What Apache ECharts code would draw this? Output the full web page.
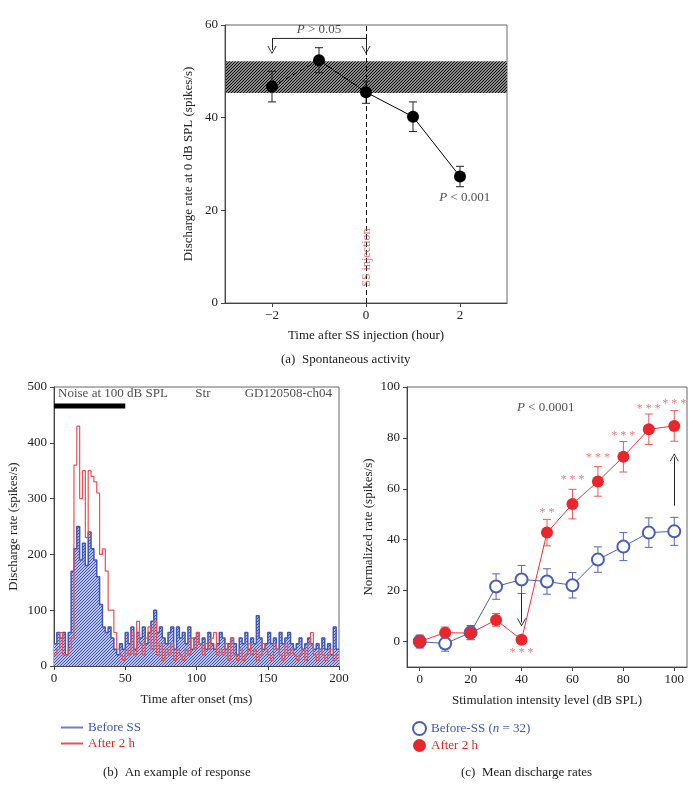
<!DOCTYPE html>
<html>
<head>
<meta charset="utf-8">
<script src="https://cdn.jsdelivr.net/npm/echarts@6/dist/echarts.min.js"></script>
<style>
  html, body { margin: 0; padding: 0; background: #fff; }
  #main { width: 693px; height: 789px; }
</style>
</head>
<body>
<div id="main"></div>
<script>
// (a) 自发放电
const hoursA = [-2, -1, 0, 1, 2];
const rateA = [46.7, 52.4, 45.5, 40.2, 27.3];
const errA = [3.3, 2.7, 2.4, 3.2, 2.2];
const bandA = [45.3, 52.2];
const ticksA = [-2, 0, 2];

// (b) PSTH, 2 ms 一个 bin
const binMs = 2;
const psthBefore = [
  40, 60, 50, 60, 20, 60, 170, 210, 250, 190, 220, 180, 240, 210, 190, 160, 110, 70, 60, 70,
  50, 30, 20, 40, 30, 60, 40, 70, 30, 60, 50, 70, 40, 60, 80, 100, 60, 70, 50, 40,
  60, 70, 30, 70, 50, 60, 40, 70, 30, 50, 60, 40, 50, 30, 60, 40, 30, 40, 60, 50,
  30, 40, 50, 40, 20, 50, 40, 60, 30, 50, 40, 90, 50, 30, 40, 60, 40, 50, 30, 60,
  40, 50, 60, 40, 30, 40, 50, 30, 40, 50, 40, 30, 40, 30, 50, 30, 40, 20, 70, 30
];
const psthAfter = [
  20, 30, 60, 20, 20, 30, 50, 360, 430, 300, 350, 230, 350, 340, 330, 310, 200, 210, 170, 100,
  100, 60, 30, 20, 10, 30, 20, 60, 20, 80, 40, 20, 50, 70, 30, 80, 20, 40, 10, 30,
  20, 40, 10, 30, 20, 10, 30, 20, 50, 30, 60, 40, 20, 40, 30, 50, 60, 20, 30, 20,
  40, 10, 50, 20, 10, 30, 10, 20, 40, 20, 30, 10, 20, 40, 30, 20, 10, 40, 30, 20,
  10, 40, 20, 30, 20, 10, 20, 30, 10, 40, 60, 20, 10, 30, 20, 10, 20, 30, 10, 20
];
const noiseBar = [0, 50];
const noiseLevel = 466;

// (c) 平均放电率
const levelsC = [0, 10, 20, 30, 40, 50, 60, 70, 80, 90, 100];
const beforeC = [0, -0.8, 3.5, 21.6, 24.4, 23.6, 22.1, 32.2, 37.3, 42.8, 43.3];
const errBeforeC = [2.5, 3, 2.8, 5, 5.5, 5, 5, 5, 5.5, 5.8, 5.5];
const afterC = [0, 3.5, 3.3, 8.5, 0.7, 42.8, 54, 62.9, 72.6, 83.4, 84.7];
const errAfterC = [2.5, 2.2, 2.5, 2.5, 1.5, 5.2, 5.8, 5.8, 6, 6, 6];
const starsC = [[40, -4.5, '* * *'], [50, 50.5, '* *'], [60, 63.5, '* * *'], [70, 72, '* * *'],
  [80, 81, '* * *'], [90, 91.4, '* * *'], [100, 93.4, '* * *']];
const ticksC = [0, 20, 40, 60, 80, 100];

const FONT = 'Liberation Serif';
const BLUE = '#3f56b2';
const RED = '#e8262c';

function hatch(line, bg, size) {
  const c = document.createElement('canvas');
  c.width = c.height = size;
  const ctx = c.getContext('2d');
  ctx.fillStyle = bg;
  ctx.fillRect(0, 0, size, size);
  ctx.strokeStyle = line;
  ctx.lineWidth = 1;
  ctx.beginPath();
  ctx.moveTo(-1, size + 1); ctx.lineTo(size + 1, -1);
  ctx.moveTo(-1, 1); ctx.lineTo(1, -1);
  ctx.moveTo(size - 1, size + 1); ctx.lineTo(size + 1, size - 1);
  ctx.stroke();
  return c;
}

function errRender(color, cap) {
  return function (params, api) {
    const x = api.value(0);
    const top = api.coord([x, api.value(2)]);
    const bot = api.coord([x, api.value(1)]);
    const style = { stroke: color, lineWidth: 1 };
    return {
      type: 'group',
      children: [
        { type: 'line', shape: { x1: top[0], y1: top[1], x2: bot[0], y2: bot[1] }, style },
        { type: 'line', shape: { x1: top[0] - cap, y1: top[1], x2: top[0] + cap, y2: top[1] }, style },
        { type: 'line', shape: { x1: bot[0] - cap, y1: bot[1], x2: bot[0] + cap, y2: bot[1] }, style }
      ]
    };
  };
}

function steps(vals) {
  const d = vals.map((v, i) => [i * binMs, v]);
  d.push([vals.length * binMs, vals[vals.length - 1]]);
  return d;
}

// 纯文字标注用的透明散点
function textSeries(xi, data, label, z) {
  return {
    type: 'scatter', xAxisIndex: xi, yAxisIndex: xi, z: z || 6,
    symbolSize: 1, itemStyle: { color: 'transparent' }, silent: true,
    label: Object.assign({ show: true, position: 'inside', fontFamily: FONT, fontSize: 13, color: '#222',
      formatter: p => p.data[2] }, label),
    data: data
  };
}

const minus = v => (v < 0 ? '\u2212' + Math.abs(v) : String(v));
const axisText = { color: '#222', fontFamily: FONT, fontSize: 13 };
const axisNameText = { color: '#222', fontFamily: FONT, fontSize: 13 };
const lineCol = { onZero: false, lineStyle: { color: '#444', width: 1 } };
const V = 'path://M0,10 L5,0 L10,10 L9,10 L5,2 L1,10 Z';
const italicRich = { i: { fontStyle: 'italic', fontFamily: FONT, fontSize: 13, color: '#222' } };

const myChart = echarts.init(document.getElementById('main'));

let option = {
  backgroundColor: '#fff',
  animation: false,
  textStyle: { fontFamily: FONT },
  grid: [
    { left: 225, top: 25, width: 282, height: 278, show: true, borderColor: '#666', borderWidth: 1 },
    { left: 54, top: 387, width: 285, height: 279, show: true, borderColor: '#666', borderWidth: 1 },
    { left: 407, top: 387, width: 280, height: 280, show: true, borderColor: '#666', borderWidth: 1 }
  ],
  xAxis: [{
    gridIndex: 0, type: 'value', min: -3, max: 3,
    name: 'Time after SS injection (hour)', nameLocation: 'middle', nameGap: 26, nameTextStyle: axisNameText,
    axisLine: lineCol, axisTick: { length: 4, customValues: ticksA, lineStyle: { color: '#444' } },
    axisLabel: { ...axisText, customValues: ticksA, formatter: minus, margin: 6 },
    splitLine: { show: false }
  }, {
    gridIndex: 1, type: 'value', min: 0, max: 200, interval: 50,
    name: 'Time after onset (ms)', nameLocation: 'middle', nameGap: 27, nameTextStyle: axisNameText,
    axisLine: lineCol, axisTick: { length: 4, lineStyle: { color: '#444' } },
    axisLabel: { ...axisText, margin: 6 }, splitLine: { show: false }
  }, {
    gridIndex: 2, type: 'value', min: -5, max: 105,
    name: 'Stimulation intensity level (dB SPL)', nameLocation: 'middle', nameGap: 27, nameTextStyle: axisNameText,
    axisLine: lineCol, axisTick: { length: 4, customValues: ticksC, lineStyle: { color: '#444' } },
    axisLabel: { ...axisText, customValues: ticksC, margin: 6 }, splitLine: { show: false }
  }],
  yAxis: [{
    gridIndex: 0, type: 'value', min: 0, max: 60, interval: 20,
    name: 'Discharge rate at 0 dB SPL (spikes/s)', nameLocation: 'middle', nameGap: 30, nameTextStyle: axisNameText,
    axisLine: { show: true, ...lineCol }, axisTick: { show: true, length: 4, lineStyle: { color: '#444' } },
    axisLabel: { ...axisText, margin: 7 }, splitLine: { show: false }
  }, {
    gridIndex: 1, type: 'value', min: 0, max: 500, interval: 100,
    name: 'Discharge rate (spikes/s)', nameLocation: 'middle', nameGap: 34, nameTextStyle: axisNameText,
    axisLine: { show: true, ...lineCol }, axisTick: { show: true, length: 4, lineStyle: { color: '#444' } },
    axisLabel: { ...axisText, margin: 7 }, splitLine: { show: false }
  }, {
    gridIndex: 2, type: 'value', min: -10, max: 100,
    name: 'Normalized rate (spikes/s)', nameLocation: 'middle', nameGap: 32, nameTextStyle: axisNameText,
    axisLine: { show: true, ...lineCol }, axisTick: { show: true, length: 4, customValues: ticksC, lineStyle: { color: '#444' } },
    axisLabel: { ...axisText, customValues: ticksC, margin: 7 }, splitLine: { show: false }
  }],
  legend: [{
    left: 56, top: 716, orient: 'vertical', itemWidth: 22, itemHeight: 2, itemGap: 3,
    selectedMode: false, icon: 'rect',
    data: [
      { name: 'bBefore', textStyle: { color: BLUE }, itemStyle: { color: '#6f7fc0' } },
      { name: 'bAfter', textStyle: { color: RED }, itemStyle: { color: '#ee4f55' } }
    ],
    formatter: n => (n === 'bBefore' ? 'Before SS' : 'After 2 h'),
    textStyle: { fontFamily: FONT, fontSize: 13 }
  }, {
    left: 407, top: 716, orient: 'vertical', itemWidth: 13, itemHeight: 13, itemGap: 3,
    selectedMode: false,
    data: [
      { name: 'cBefore', icon: 'emptyCircle', textStyle: { color: BLUE } },
      { name: 'cAfter', icon: 'circle', textStyle: { color: RED } }
    ],
    formatter: n => (n === 'cBefore' ? '{a|Before-SS (}{i|n}{a| = 32)}' : 'After 2 h'),
    textStyle: {
      fontFamily: FONT, fontSize: 13,
      rich: {
        a: { color: BLUE, fontFamily: FONT, fontSize: 13 },
        i: { color: BLUE, fontFamily: FONT, fontSize: 13, fontStyle: 'italic' }
      }
    }
  }],
  graphic: [
    { type: 'text', left: 281, top: 353, style: { text: '(a)  Spontaneous activity', font: '13px "Liberation Serif"', fill: '#222' } },
    { type: 'text', left: 103, top: 766, style: { text: '(b)  An example of response', font: '13px "Liberation Serif"', fill: '#222' } },
    { type: 'text', left: 461, top: 766, style: { text: '(c)  Mean discharge rates', font: '13px "Liberation Serif"', fill: '#222' } }
  ],
  series: [
    // ---- (a)
    {
      // 阴影带
      type: 'line', xAxisIndex: 0, yAxisIndex: 0, z: 0, data: [], symbol: 'none',
      markArea: {
        silent: true, z: 0,
        itemStyle: { color: { image: hatch('#111', '#8a8a8a', 3), repeat: 'repeat' } },
        data: [[{ yAxis: bandA[0] }, { yAxis: bandA[1] }]]
      }
    },
    {
      type: 'line', xAxisIndex: 0, yAxisIndex: 0, z: 3,
      data: hoursA.slice(0, 2).map((h, i) => [h, rateA[i]]),
      symbol: 'none', lineStyle: { color: '#000', width: 1, type: [5, 3] }
    },
    {
      type: 'line', xAxisIndex: 0, yAxisIndex: 0, z: 3,
      data: hoursA.slice(1).map((h, i) => [h, rateA[i + 1]]),
      symbol: 'none', lineStyle: { color: '#000', width: 1 },
      markLine: {
        silent: true, symbol: 'none', label: { show: false },
        lineStyle: { color: '#111', width: 1, type: [5, 3] },
        data: [{ xAxis: 0 }]
      }
    },
    {
      type: 'custom', xAxisIndex: 0, yAxisIndex: 0, z: 4,
      renderItem: errRender('#222', 4),
      encode: { x: 0, y: [1, 2] },
      data: hoursA.map((h, i) => [h, rateA[i] - errA[i], rateA[i] + errA[i]])
    },
    {
      type: 'scatter', xAxisIndex: 0, yAxisIndex: 0, z: 10,
      symbolSize: 12, itemStyle: { color: '#000', opacity: 1 },
      data: hoursA.map((h, i) => [h, rateA[i]])
    },
    {
      // P > 0.05 括号
      type: 'line', xAxisIndex: 0, yAxisIndex: 0, z: 3,
      data: [[-2, 57.1], [0, 57.1]], symbol: 'none', lineStyle: { color: '#222', width: 1 },
      markLine: {
        silent: true, symbol: ['none', V], symbolSize: [9, 8], label: { show: false },
        lineStyle: { color: '#222', width: 1, type: 'solid' },
        data: [
          [{ coord: [-2, 57.1] }, { coord: [-2, 54.6] }],
          [{ coord: [0, 57.1] }, { coord: [0, 54.6] }]
        ]
      }
    },
    textSeries(0, [[-1, 59.1, '{i|P} > 0.05'], [2.1, 22.7, '{i|P} < 0.001']], { rich: italicRich }),
    textSeries(0, [[0.02, 9.8, 'SS injection']], { rotate: 90, color: '#e0474c', fontSize: 12 }),
    // ---- (b)
    {
      name: 'bBefore', type: 'line', xAxisIndex: 1, yAxisIndex: 1, z: 2,
      step: 'end', symbol: 'none', data: steps(psthBefore),
      lineStyle: { color: BLUE, width: 1.5 }, itemStyle: { color: BLUE },
      areaStyle: { color: { image: hatch('#3f56b2', '#b9c2ea', 3), repeat: 'repeat' }, opacity: 1 }
    },
    {
      name: 'bAfter', type: 'line', xAxisIndex: 1, yAxisIndex: 1, z: 3,
      step: 'end', symbol: 'none', data: steps(psthAfter),
      lineStyle: { color: '#ee4f55', width: 1.2 }, itemStyle: { color: RED }
    },
    {
      type: 'line', xAxisIndex: 1, yAxisIndex: 1, z: 4,
      symbol: 'none', data: noiseBar.map(t => [t, noiseLevel]),
      lineStyle: { color: '#000', width: 5, cap: 'butt' }
    },
    textSeries(1, [[2.5, 488, 'Noise at 100 dB SPL']], { position: 'right', distance: 0 }),
    textSeries(1, [[104.5, 488, 'Str']], {}),
    textSeries(1, [[195.5, 488, 'GD120508-ch04']], { position: 'left', distance: 0 }),
    // ---- (c)
    {
      type: 'custom', xAxisIndex: 2, yAxisIndex: 2, z: 2,
      renderItem: errRender('#5468b8', 4),
      encode: { x: 0, y: [1, 2] },
      data: levelsC.map((l, i) => [l, beforeC[i] - errBeforeC[i], beforeC[i] + errBeforeC[i]])
    },
    {
      type: 'custom', xAxisIndex: 2, yAxisIndex: 2, z: 2,
      renderItem: errRender('#e85a5a', 4),
      encode: { x: 0, y: [1, 2] },
      data: levelsC.map((l, i) => [l, afterC[i] - errAfterC[i], afterC[i] + errAfterC[i]])
    },
    {
      name: 'cBefore', type: 'line', xAxisIndex: 2, yAxisIndex: 2, z: 3,
      symbol: 'emptyCircle', symbolSize: 12,
      data: levelsC.map((l, i) => [l, beforeC[i]]),
      lineStyle: { color: '#4a5fb4', width: 1 },
      itemStyle: { color: '#4a5fb4', borderWidth: 1.3 }
    },
    {
      name: 'cAfter', type: 'line', xAxisIndex: 2, yAxisIndex: 2, z: 4,
      symbol: 'circle', symbolSize: 12,
      data: levelsC.map((l, i) => [l, afterC[i]]),
      lineStyle: { color: '#e8343a', width: 1 },
      itemStyle: { color: RED },
      markLine: {
        silent: true, symbol: ['none', V], symbolSize: [9, 8], label: { show: false },
        lineStyle: { color: '#222', width: 1, type: 'solid' },
        data: [
          [{ coord: [40, 19] }, { coord: [40, 7.5] }],
          [{ coord: [100, 53.4] }, { coord: [100, 72.4] }]
        ]
      }
    },
    textSeries(2, starsC, { color: '#e05a5a', fontSize: 12 }),
    textSeries(2, [[49.5, 92, '{i|P} < 0.0001']], { rich: italicRich })
  ]
};

myChart.setOption(option);
window.addEventListener('resize', function () {
  myChart.resize();
});
</script>
</body>
</html>
